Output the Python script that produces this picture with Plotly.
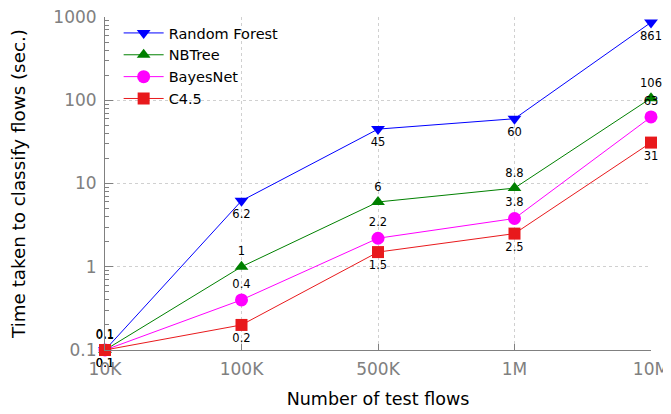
import plotly.graph_objects as go

categories = ["10K", "100K", "500K", "1M", "10M"]
random_forest = [0.1, 6.2, 45, 60, 861]
nbtree = [0.1, 1, 6, 8.8, 106]
bayesnet = [0.1, 0.4, 2.2, 3.8, 63]
c45 = [0.1, 0.2, 1.5, 2.5, 31]
y_ticks = [0.1, 1, 10, 100, 1000]
y_tick_labels = ["0.1", "1", "10", "100", "1000"]

series = [
    ("Random Forest", random_forest, "#0000ff", "triangle-down", "bottom center", 12),
    ("NBTree", nbtree, "#008000", "triangle-up", "top center", 12),
    ("BayesNet", bayesnet, "#ff00ff", "circle", "top center", 13),
    ("C4.5", c45, "#e8191c", "square", "bottom center", 12),
]

fig = go.Figure()
for name, vals, color, symbol, tpos, msize in series:
    fig.add_trace(go.Scatter(
        x=categories, y=vals, name=name, mode="lines+markers+text",
        line=dict(color=color, width=1),
        marker=dict(symbol=symbol, color=color, size=msize),
        text=[f"{v:g}" for v in vals], textposition=tpos,
        textfont=dict(family="DejaVu Sans", size=11.5, color="#000000"),
        cliponaxis=False,
    ))

minor_vals = [m * 10 ** e for e in range(-1, 3) for m in range(2, 10)]

# the page body has an 8px default margin, so margins are offset to compensate
fig.update_layout(
    width=671, height=414,
    margin=dict(l=97, r=28, t=9, b=72),
    plot_bgcolor="white", paper_bgcolor="white",
    font=dict(family="DejaVu Sans", size=15, color="#000000"),
    legend=dict(x=0.025, y=1.0, xanchor="left", yanchor="top",
                bgcolor="rgba(0,0,0,0)", font=dict(size=14.5),
                tracegroupgap=0, itemwidth=40),
    showlegend=True,
)
fig.update_xaxes(
    type="category", range=[0, 4], automargin=False,
    showline=True, linecolor="#808080", linewidth=1,
    ticks="inside", ticklen=6, tickcolor="#808080",
    ticklabelstandoff=4, ticklabeloverflow="allow",
    tickfont=dict(size=17, color="#808080"),
    showgrid=True, gridcolor="#d0d0d0", griddash="dot", gridwidth=1,
    title=dict(text="Number of test flows", font=dict(size=17.5, color="#000000"), standoff=14),
    zeroline=False,
)
fig.update_yaxes(
    type="log", range=[-1, 3], automargin=False,
    tickvals=y_ticks, ticktext=y_tick_labels,
    showline=True, linecolor="#808080", linewidth=1,
    ticks="inside", ticklen=8, tickcolor="#808080",
    ticklabelstandoff=4, ticklabeloverflow="allow",
    tickfont=dict(size=17, color="#808080"),
    showgrid=True, gridcolor="#d0d0d0", griddash="dot", gridwidth=1,
    minor=dict(tickvals=minor_vals, ticks="inside", ticklen=4, tickcolor="#808080", showgrid=False),
    title=dict(text="Time taken to classify flows (sec.)", font=dict(size=18.3, color="#000000"), standoff=28),
    zeroline=False,
)

fig.write_html("out.html")
